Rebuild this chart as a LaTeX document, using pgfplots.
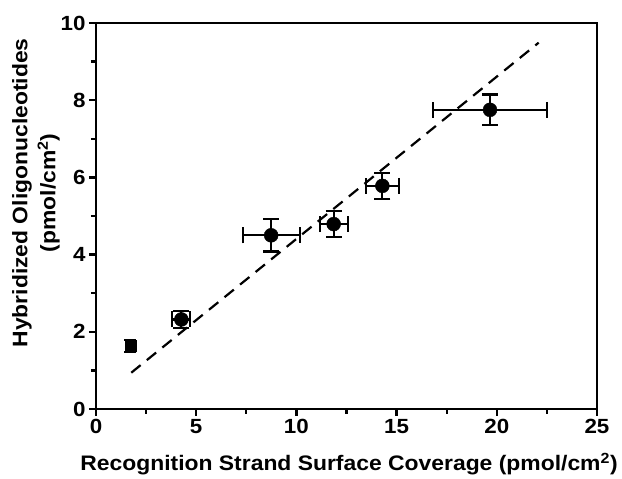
\documentclass[border=0pt]{standalone}
\usepackage{fontspec}
\setmainfont{Liberation Sans}
\newfontfamily\widesans{Liberation Sans}[FakeStretch=1.09]
\usepackage{pgfplots}
\pgfplotsset{compat=1.18}

\pgfplotstableread{
x     y     ex    ey
4.26  2.32  0.45  0.22
8.74  4.50  1.42  0.42
11.86 4.79  0.70  0.33
14.29 5.78  0.81  0.33
19.66 7.75  2.85  0.40
}\hybdata

\begin{document}
\begin{tikzpicture}
\begin{axis}[
    scale only axis, width=501pt, height=386pt,
    xmin=0, xmax=25, ymin=0, ymax=10,
    xtick={0,5,...,25}, ytick={0,2,...,10},
    minor x tick num=1, minor y tick num=1,
    axis line style={line width=2.6pt},
    tick align=outside, tick pos=left,
    major tick length=7pt, minor tick length=5pt,
    every tick/.style={black, line width=2.4pt},
    tick label style={font=\widesans\fontsize{20.5}{24}\selectfont\bfseries},
    label style={font=\widesans\fontsize{21}{28}\selectfont\bfseries},
    /pgf/number format/assume math mode=true,
    xlabel={Recognition Strand Surface Coverage (pmol/cm\textsuperscript{2})},
    ylabel={Hybridized Oligonucleotides\\(pmol/cm\textsuperscript{2})},
    ylabel style={align=center, anchor=center, at={(axis description cs:-0.12,0.56)}},
    xlabel style={anchor=center, at={(axis description cs:0.505,0)}, yshift=-55pt},
]
\addplot[black, line width=2.2pt, dash pattern=on 12pt off 8pt]
    coordinates {(1.76,0.94)(22.09,9.49)};
\addplot[only marks, mark=*, mark size=7pt, black,
    error bars/.cd, x dir=both, x explicit, y dir=both, y explicit,
    error bar style={line width=2.2pt},
    error mark options={rotate=90, line width=2.2pt, mark size=8pt}]
    table[x=x, y=y, x error=ex, y error=ey] {\hybdata};
\addplot[only marks, mark=square*, mark size=5.5pt, black,
    error bars/.cd, x dir=both, x explicit, y dir=both, y explicit,
    error bar style={line width=2.2pt},
    error mark options={rotate=90, line width=2.2pt, mark size=6pt}]
    coordinates {(1.72,1.63) +- (0.2,0.16)};
\end{axis}
\path (current axis.north west) ++(-96pt,23pt) (current axis.south east) ++(25pt,-70pt);
\end{tikzpicture}
\end{document}
